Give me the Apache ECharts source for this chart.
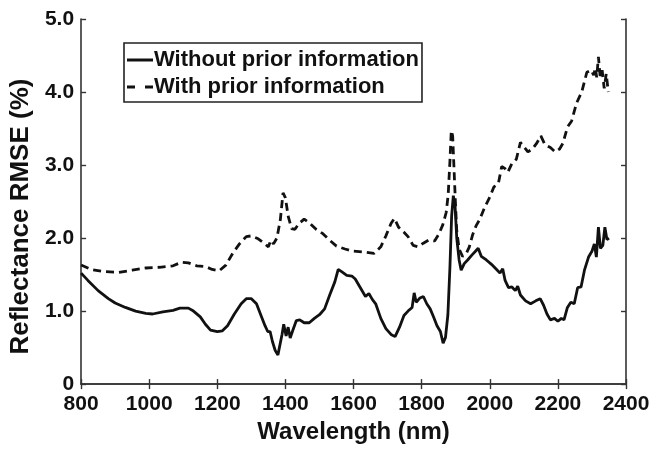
<!DOCTYPE html>
<html>
<head>
<meta charset="utf-8">
<script src="https://cdn.jsdelivr.net/npm/echarts@6/dist/echarts.min.js"></script>
<style>
html,body{margin:0;padding:0;background:#fff;}
#c{width:654px;height:449px;}
</style>
</head>
<body>
<div id="c"></div>
<script>
const xTicks = [800, 1000, 1200, 1400, 1600, 1800, 2000, 2200, 2400];
const yTicks = [0, 1, 2, 3, 4, 5];
const seriesNames = ['Without prior information', 'With prior information'];

const withoutWl = [800,820,850,880,900,930,960,990,1010,1040,1070,1090,1115,1130,1150,1165,1180,1200,1215,1230,1250,1270,1285,1300,1315,1330,1340,1348,1355,1362,1370,1378,1383,1390,1395,1402,1408,1414,1422,1432,1442,1455,1470,1485,1500,1515,1530,1545,1555,1565,1580,1595,1605,1620,1635,1645,1655,1665,1680,1695,1710,1722,1735,1748,1760,1772,1778,1784,1795,1805,1815,1825,1835,1845,1855,1863,1870,1877,1883,1888,1893,1898,1903,1910,1916,1925,1935,1948,1958,1966,1975,1990,2005,2020,2030,2038,2045,2055,2065,2075,2082,2090,2105,2120,2135,2148,2158,2168,2178,2190,2200,2210,2218,2228,2238,2248,2258,2268,2278,2290,2300,2307,2313,2319,2325,2332,2338,2344,2350];
const withoutVal = [1.52,1.42,1.28,1.17,1.11,1.05,1.00,0.97,0.96,0.99,1.01,1.04,1.04,1.00,0.92,0.82,0.74,0.72,0.73,0.80,0.96,1.10,1.17,1.17,1.10,0.92,0.80,0.72,0.72,0.58,0.46,0.40,0.38,0.68,0.82,0.66,0.78,0.63,0.74,0.87,0.88,0.84,0.84,0.90,0.95,1.03,1.22,1.40,1.57,1.54,1.49,1.48,1.44,1.32,1.20,1.24,1.16,1.10,0.90,0.76,0.68,0.65,0.78,0.94,1.00,1.05,1.25,1.12,1.18,1.20,1.10,1.03,0.92,0.80,0.72,0.56,0.64,0.95,1.60,2.30,2.58,2.45,2.00,1.70,1.56,1.65,1.70,1.77,1.82,1.86,1.75,1.70,1.64,1.57,1.52,1.58,1.42,1.32,1.33,1.28,1.34,1.22,1.14,1.10,1.14,1.17,1.08,0.96,0.88,0.90,0.86,0.90,0.88,1.05,1.12,1.10,1.32,1.33,1.56,1.74,1.82,1.92,1.74,2.15,1.86,1.90,2.15,1.98,2.00];

const withWl = [800,830,870,910,950,990,1030,1070,1095,1115,1140,1165,1185,1205,1225,1245,1265,1285,1300,1320,1340,1350,1357,1365,1375,1385,1393,1400,1408,1418,1428,1440,1455,1470,1490,1510,1530,1550,1575,1600,1630,1660,1680,1695,1710,1720,1732,1748,1760,1775,1790,1805,1820,1838,1850,1862,1872,1878,1883,1887,1891,1895,1899,1903,1910,1920,1930,1940,1950,1960,1970,1985,2000,2012,2025,2035,2045,2053,2065,2078,2090,2100,2112,2125,2138,2150,2162,2178,2192,2205,2215,2228,2240,2255,2270,2285,2298,2305,2310,2314,2319,2324,2330,2336,2342,2348];
const withVal = [1.63,1.57,1.54,1.53,1.56,1.59,1.60,1.62,1.67,1.66,1.62,1.61,1.57,1.55,1.63,1.79,1.92,2.02,2.03,1.99,1.92,1.88,1.97,1.92,2.00,2.25,2.62,2.55,2.30,2.13,2.12,2.20,2.26,2.21,2.12,2.06,1.97,1.89,1.85,1.82,1.81,1.79,1.88,2.03,2.20,2.27,2.15,2.08,2.02,1.90,1.88,1.93,1.97,1.96,2.05,2.18,2.35,2.60,3.05,3.47,3.40,2.95,2.50,2.10,1.85,1.75,1.78,1.88,2.05,2.17,2.25,2.42,2.56,2.70,2.74,2.98,2.95,2.90,3.02,3.08,3.31,3.25,3.18,3.22,3.30,3.40,3.28,3.24,3.18,3.22,3.30,3.52,3.60,3.85,4.00,4.27,4.30,4.23,4.33,4.20,4.48,4.22,4.30,4.05,4.25,4.00];

const FONT = '"Liberation Sans", Arial, sans-serif';
const AX = '#333';
function pairs(xs, ys){ return xs.map((x,i)=>[x, ys[i]]); }

const chart = echarts.init(document.getElementById('c'), null, {renderer:'canvas'});
const xCommon = {
  type:'value', min: xTicks[0], max: xTicks[xTicks.length-1], interval: xTicks[1]-xTicks[0],
  axisLine:{show:true, lineStyle:{color:AX, width:1.6}},
  axisTick:{show:true, inside:true, length:5, lineStyle:{color:AX, width:1.4}},
  splitLine:{show:false}
};
const yCommon = {
  type:'value', min: yTicks[0], max: yTicks[yTicks.length-1], interval: 1,
  axisLine:{show:true, lineStyle:{color:AX, width:1.6}},
  axisTick:{show:true, inside:true, length:5, lineStyle:{color:AX, width:1.4}},
  splitLine:{show:false}
};
chart.setOption({
  animation:false,
  backgroundColor:'#fff',
  grid:{left:74, right:28, top:19, bottom:63, containLabel:false},
  legend:{
    left:124, top:43, orient:'vertical', itemGap:1, itemWidth:26, itemHeight:3,
    padding:[4,3,2,3], borderColor:'#222', borderWidth:1.6, backgroundColor:'#fff',
    textStyle:{fontFamily:FONT, fontWeight:'bold', fontSize:22, color:'#111', lineHeight:26, padding:[0,0,0,-4]},
    data: [
      {name: seriesNames[0], icon:'path://M0,0H26V3H0Z', itemStyle:{color:'#111'}},
      {name: seriesNames[1], icon:'path://M0,0H8V3H0Z M18,0H26V3H18Z', itemStyle:{color:'#111'}}
    ]
  },
  xAxis:[
    Object.assign({}, xCommon, {position:'bottom',
      name:'Wavelength (nm)', nameLocation:'middle', nameGap:33,
      nameTextStyle:{fontFamily:FONT, fontWeight:'bold', fontSize:24, color:'#111'},
      axisLabel:{fontFamily:FONT, fontWeight:'bold', fontSize:21, color:'#111', margin:10,
        formatter: v => String(v)}}),
    Object.assign({}, xCommon, {position:'top', axisLabel:{show:false}})
  ],
  yAxis:[
    Object.assign({}, yCommon, {position:'left',
      name:'Reflectance RMSE (%)', nameLocation:'middle', nameGap:38,
      nameTextStyle:{fontFamily:FONT, fontWeight:'bold', fontSize:26, color:'#111', padding:[0,30,0,0]},
      axisLabel:{fontFamily:FONT, fontWeight:'bold', fontSize:21, color:'#111', margin:7,
        formatter: v => v === 0 ? '0' : v.toFixed(1)}}),
    Object.assign({}, yCommon, {position:'right', axisLabel:{show:false}})
  ],
  series:[
    {name:seriesNames[0], type:'line', xAxisIndex:0, yAxisIndex:0, showSymbol:false, symbol:'none',
     data: pairs(withoutWl, withoutVal), lineStyle:{color:'#111', width:2.8}, itemStyle:{color:'#111'}},
    {name:seriesNames[1], type:'line', xAxisIndex:0, yAxisIndex:0, showSymbol:false, symbol:'none',
     data: pairs(withWl, withVal), lineStyle:{color:'#111', width:2.8, type:[8,5]}, itemStyle:{color:'#111'}}
  ]
});
</script>
</body>
</html>
